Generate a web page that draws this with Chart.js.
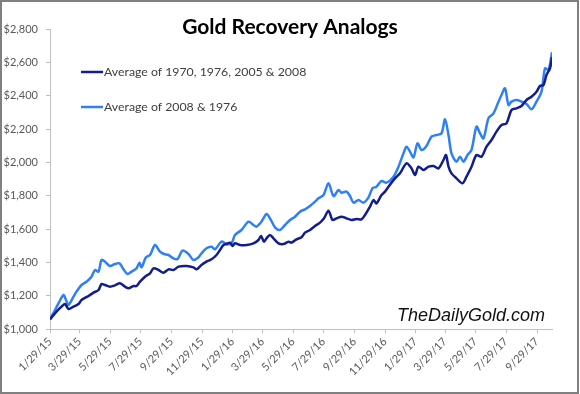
<!DOCTYPE html>
<html><head><meta charset="utf-8">
<script src="https://cdn.jsdelivr.net/npm/chart.js@4/dist/chart.umd.min.js"></script>
<style>html,body{margin:0;padding:0;background:#fff;}#wrap{width:580px;height:394px;}</style>
</head><body><div id="wrap"><canvas id="c" width="580" height="394"></canvas></div>
<script>
const chartTitle = "Gold Recovery Analogs";
const watermark = "TheDailyGold.com";
const seriesNames = ["Average of 1970, 1976, 2005 & 2008", "Average of 2008 & 1976"];
// x values are days after 1/29/15
const tickDays = [0,59,120,181,243,304,365,425,486,547,609,670,731,790,851,912,974];
const tickLabels = ["1/29/15","3/29/15","5/29/15","7/29/15","9/29/15","11/29/15","1/29/16","3/29/16","5/29/16","7/29/16","9/29/16","11/29/16","1/29/17","3/29/17","5/29/17","7/29/17","9/29/17"];
const yTicks = [1000,1200,1400,1600,1800,2000,2200,2400,2600,2800];

const s1Days = [0,13,23,30,37,47,57,63,77,87,97,103,110,120,130,140,150,157,167,173,180,190,200,207,217,227,237,247,257,273,287,293,303,313,323,333,340,347,353,360,365,370,380,393,407,417,422,428,433,440,447,457,467,477,483,493,503,510,520,530,540,548,557,565,573,583,593,603,613,623,630,640,647,653,663,670,677,690,700,713,723,730,737,747,757,767,777,787,792,797,803,813,825,833,843,853,863,873,883,893,903,913,923,933,943,953,963,973,980,987,993,1000,1004];
const s1Values = [1058,1104,1134,1150,1120,1134,1150,1174,1198,1218,1234,1270,1264,1254,1262,1274,1254,1244,1258,1258,1284,1314,1334,1364,1354,1338,1358,1354,1374,1378,1370,1358,1384,1404,1418,1444,1474,1504,1510,1518,1498,1514,1504,1504,1514,1534,1558,1524,1544,1564,1544,1514,1510,1524,1518,1538,1550,1578,1594,1618,1638,1664,1710,1654,1664,1674,1664,1654,1660,1658,1684,1734,1774,1754,1804,1824,1854,1904,1934,1994,1964,1924,1974,1954,1974,1978,1964,2014,2044,1974,1934,1904,1874,1914,1974,2044,2034,2094,2134,2184,2224,2234,2314,2324,2338,2374,2394,2424,2458,2464,2524,2564,2630];

const s2Days = [0,10,17,27,32,37,47,53,63,73,83,90,97,103,110,120,130,139,147,155,163,173,179,183,192,200,210,220,228,237,247,255,265,277,287,297,302,313,323,330,343,353,363,370,383,397,407,413,423,433,440,450,460,470,480,490,500,510,520,530,537,547,557,567,577,583,593,600,607,617,627,637,645,653,663,673,687,697,707,713,720,727,735,743,753,763,773,783,790,797,803,813,820,827,835,843,853,860,867,877,887,897,903,910,917,923,933,943,953,963,973,983,990,997,1004];
const s2Values = [1058,1114,1154,1204,1174,1144,1194,1224,1264,1284,1314,1354,1344,1414,1404,1378,1390,1394,1358,1330,1344,1364,1398,1370,1430,1444,1504,1464,1450,1444,1424,1420,1470,1450,1414,1430,1450,1484,1494,1478,1524,1510,1514,1564,1594,1644,1624,1614,1644,1690,1664,1610,1594,1624,1654,1674,1704,1718,1738,1764,1784,1804,1874,1798,1834,1818,1824,1798,1758,1774,1758,1790,1844,1854,1888,1878,1914,1974,2054,2094,2064,2030,2114,2074,2098,2154,2164,2174,2258,2164,2054,2004,2034,2004,2044,2074,2214,2174,2144,2264,2294,2364,2404,2444,2344,2364,2374,2364,2350,2318,2364,2424,2564,2554,2660];

const colors = ["#131d8c", "#2f80f5"];
const toXY = (d, v) => d.map((x, i) => ({x: x, y: v[i]}));

const decor = {
  id: 'decor',
  beforeDraw(chart) {
    const c = chart.ctx;
    c.save(); c.fillStyle = '#fff'; c.fillRect(0, 0, chart.width, chart.height); c.restore();
  },
  afterDraw(chart) {
    const c = chart.ctx;
    c.save();
    c.fillStyle = '#000';
    c.font = 'bold 21px Lato';
    c.textAlign = 'center'; c.textBaseline = 'middle';
    c.fillText(chartTitle, 290, 27);
    const ly = [72, 107];
    seriesNames.forEach((n, i) => {
      c.strokeStyle = colors[i]; c.lineWidth = 2.5;
      c.beginPath(); c.moveTo(81, ly[i]); c.lineTo(103, ly[i]); c.stroke();
      c.fillStyle = '#404040'; c.font = '12.3px Lato';
      c.textAlign = 'left'; c.textBaseline = 'middle';
      c.fillText(n, 104, ly[i]);
    });
    c.fillStyle = '#111'; c.font = 'italic 18px "Liberation Sans"';
    c.textAlign = 'right'; c.textBaseline = 'alphabetic';
    c.fillText(watermark, 545, 321);
    c.strokeStyle = '#808080'; c.lineWidth = 2;
    c.strokeRect(1, 1, 577, 392);
    c.restore();
  }
};

new Chart(document.getElementById('c'), {
  type: 'line',
  data: {
    datasets: [
      {label: seriesNames[0], data: toXY(s1Days, s1Values), borderColor: colors[0], borderWidth: 2.5, pointRadius: 0, tension: 0.3, fill: false},
      {label: seriesNames[1], data: toXY(s2Days, s2Values), borderColor: colors[1], borderWidth: 2.5, pointRadius: 0, tension: 0.3, fill: false}
    ]
  },
  options: {
    responsive: false, animation: false, devicePixelRatio: 1,
    layout: {padding: {left: 0, top: 29, right: 28, bottom: 0}},
    plugins: {legend: {display: false}, tooltip: {enabled: false}, title: {display: false}},
    scales: {
      x: {
        type: 'linear', min: 0, max: 1004,
        afterBuildTicks: (s) => { s.ticks = tickDays.map(v => ({value: v})); },
        afterFit: (s) => { s.height = 65; },
        grid: {drawOnChartArea: false, drawTicks: true, tickLength: 4, color: '#bfbfbf'},
        border: {color: '#bfbfbf', width: 1},
        ticks: {autoSkip: false, minRotation: 45, maxRotation: 45, color: '#595959', font: {family: 'Lato', size: 11}, padding: 2,
          callback: (v) => { const i = tickDays.indexOf(v); return i >= 0 ? tickLabels[i] : ''; }}
      },
      y: {
        min: 1000, max: 2800,
        afterBuildTicks: (s) => { s.ticks = yTicks.map(v => ({value: v})); },
        afterFit: (s) => { s.width = 50; },
        grid: {drawOnChartArea: false, drawTicks: true, tickLength: 4, color: '#bfbfbf'},
        border: {color: '#bfbfbf', width: 1},
        ticks: {color: '#595959', font: {family: 'Lato', size: 11}, padding: 8,
          callback: (v) => '$' + v.toLocaleString('en-US')}
      }
    }
  },
  plugins: [decor]
});
</script></body></html>
